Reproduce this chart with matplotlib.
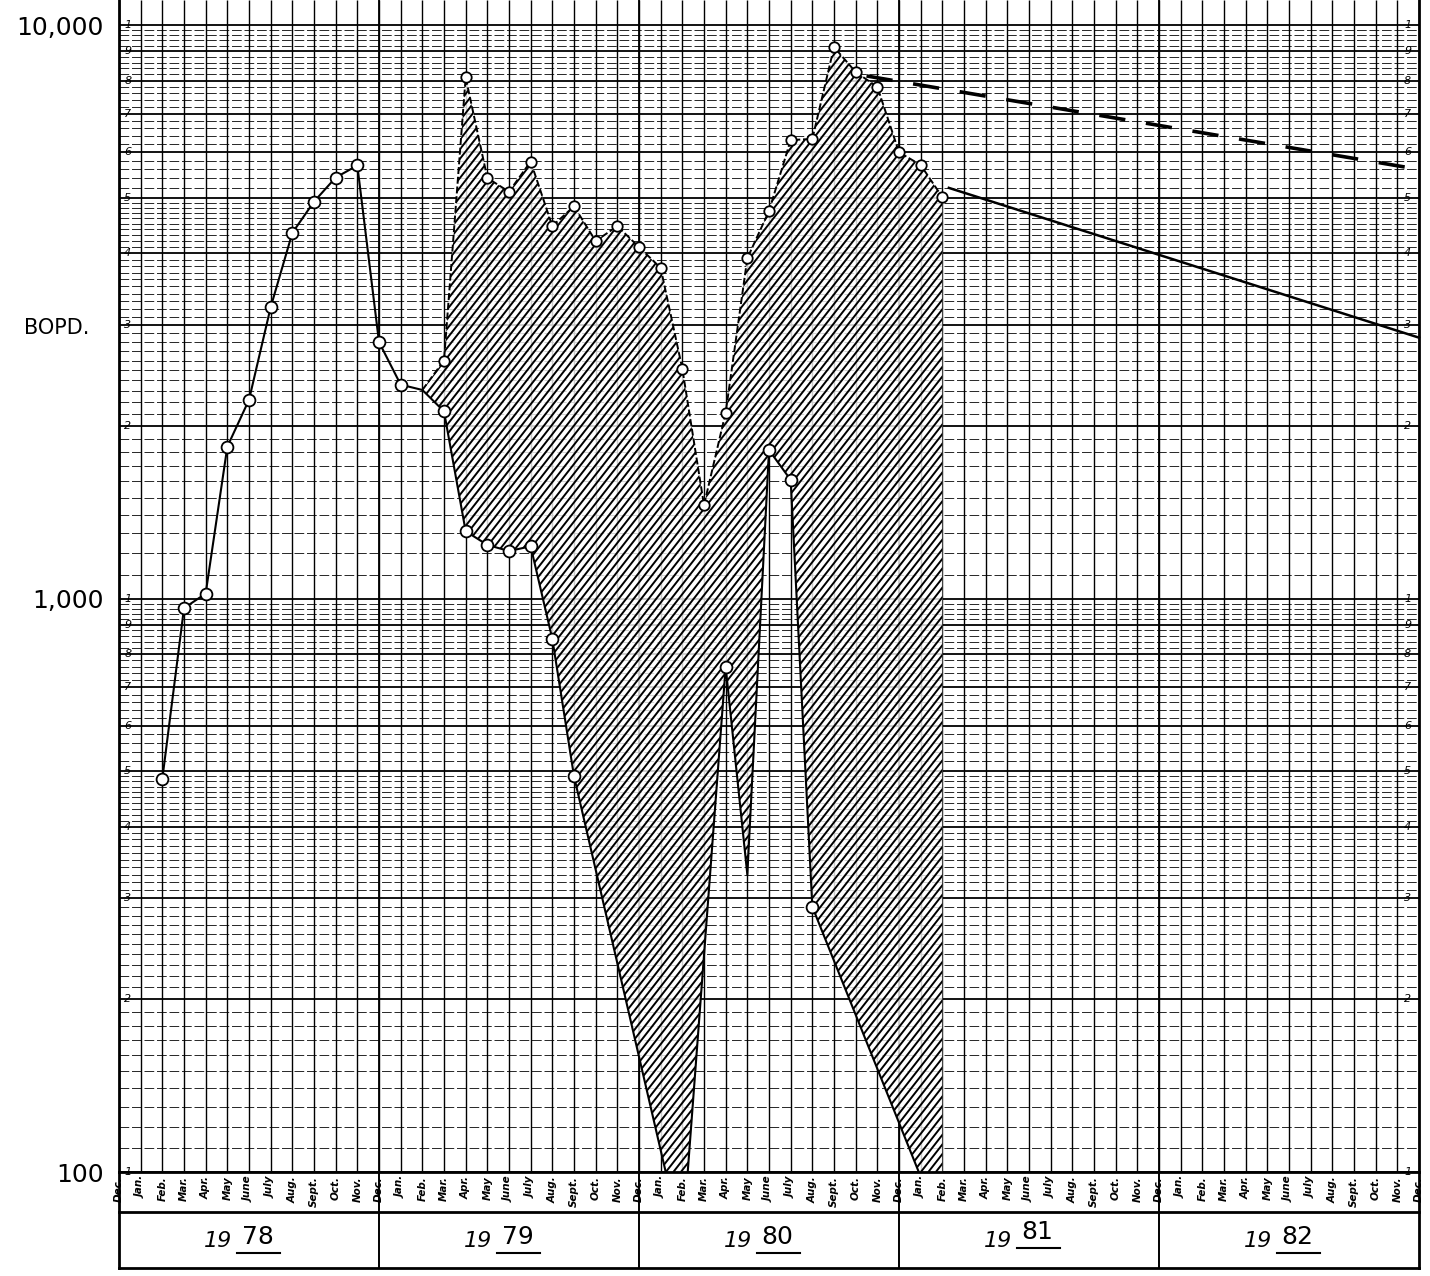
import numpy as np
import matplotlib.pyplot as plt
from matplotlib.ticker import NullLocator, NullFormatter
from matplotlib.transforms import blended_transform_factory
from matplotlib.collections import LineCollection

plt.rcParams['font.family'] = ['DejaVu Sans']
plt.rcParams['lines.scale_dashes'] = False

W, H = 1430, 1276

# month index 0 = Dec. 1977 ... 60 = Dec. 1982
months = ['Dec.', 'Jan.', 'Feb.', 'Mar.', 'Apr.', 'May', 'June', 'July',
          'Aug.', 'Sept.', 'Oct.', 'Nov.']
month_labels = [months[i % 12] for i in range(61)]
years = ['78', '79', '80', '81', '82']

# lower curve (1978 well history, then lower bound of hatched band)
lower_x = [2, 3, 4, 5, 6, 7, 8, 9, 10, 11, 12, 13, 14, 15, 16, 17, 18, 19, 20, 21,
           26, 28, 29, 30, 31, 32, 38]
lower_bopd = [485, 962, 1020, 1840, 2220, 3220, 4340, 4920, 5420, 5690, 2800, 2360,
              2310, 2120, 1310, 1240, 1210, 1233, 850, 490,
              75, 760, 330, 1815, 1610, 290, 79]
lower_marked = [0, 1, 2, 3, 4, 5, 6, 7, 8, 9, 10, 11, 13, 14, 15, 16, 17, 18, 19,
                21, 23, 24, 25]

# upper curve, Feb. 1979 .. Feb. 1981
upper_x = list(range(14, 39))
upper_bopd = [2310, 2600, 8100, 5410, 5120, 5780, 4460, 4830, 4200, 4460, 4100,
              3770, 2515, 1455, 2110, 3920, 4740, 6300, 6330, 9150, 8280, 7800,
              6000, 5700, 5010]

# projected declines
dash_x = [34.5, 60]
dash_bopd = [8150, 5600]
solid_x = [38.3, 60]
solid_bopd = [5200, 2850]

fig = plt.figure(figsize=(W / 100, H / 100), dpi=100)
ax = fig.add_axes([119 / W, 1 - 1172 / H, 1300 / W, 1172 / H])
ax.set_yscale('log')
ytop = 10 ** (4 + 25 / 573.5)
ax.set_xlim(0, 60)
ax.set_ylim(100, ytop)

# log paper grid
minor_h, major_h = [], []
for d in [100, 1000]:
    for m in np.arange(1.1, 5.0, 0.1):
        if abs(m - round(m)) > 1e-6:
            minor_h.append(m * d)
    for m in np.arange(5.2, 10.0, 0.2):
        if abs(m - round(m)) > 1e-6:
            minor_h.append(m * d)
    major_h += [k * d for k in range(1, 10)]
major_h.append(10000)
ax.hlines(minor_h, 0, 60, colors='0.15', lw=0.7, linestyles=(0, (7, 2)), zorder=1)
ax.hlines(major_h, 0, 60, colors='k', lw=1.3, zorder=1)
ax.vlines(range(61), 100, ytop, colors='k', lw=1.0, zorder=1)
ax.vlines([12, 24, 36, 48], 100, ytop, colors='k', lw=1.3, zorder=1)

# hatched band between the two curves
lo_pairs = [(x, v) for x, v in zip(lower_x, lower_bopd) if x >= 14]
poly_x = upper_x + [p[0] for p in lo_pairs[::-1]]
poly_y = upper_bopd + [p[1] for p in lo_pairs[::-1]]
band = ax.fill(poly_x, poly_y, facecolor=(1, 1, 1, 0.8), edgecolor='none', lw=0,
               zorder=2)[0]

# hand-drawn style "////" hatching, clipped to the band
aw, ah = 1300.0, 1172.0
run = ah / np.tan(np.radians(52))
segs = [[(c / aw, 0), ((c + run) / aw, 1)] for c in np.arange(-run, aw, 7.5)]
hatch = LineCollection(segs, colors='k', linewidths=1.4, transform=ax.transAxes,
                       zorder=3)
ax.add_collection(hatch)
hatch.set_clip_path(band)

ax.plot(lower_x, lower_bopd, color='k', lw=1.5, marker='o', ms=8.5, mfc='white',
        mec='k', mew=1.3, markevery=lower_marked, zorder=4)
ax.plot(upper_x, upper_bopd, color='k', lw=1.4, ls=(0, (5, 2)), marker='o', ms=7.5,
        mfc='white', mec='k', mew=1.3, markevery=list(range(1, len(upper_x))), zorder=4)

ax.plot(dash_x, dash_bopd, color='k', lw=2.6, ls=(0, (19, 15)), zorder=4)
ax.plot(solid_x, solid_bopd, color='k', lw=1.8, zorder=4, clip_on=False)

# axes cosmetics
for s in ['left', 'right', 'bottom']:
    ax.spines[s].set_linewidth(2)
ax.spines['top'].set_visible(False)
ax.set_xticks(range(61))
ax.set_xticklabels(month_labels, rotation=90, fontsize=7.5, fontweight='bold',
                   style='italic')
ax.tick_params(axis='x', length=0, pad=3)
ax.set_yticks([100, 1000, 10000])
ax.set_yticklabels(['100', '1,000', '10,000'])
ax.yaxis.set_minor_locator(NullLocator())
ax.yaxis.set_minor_formatter(NullFormatter())
ax.tick_params(axis='y', length=0, pad=11, labelsize=18)

# cycle digits printed on the log paper
bl = blended_transform_factory(ax.transAxes, ax.transData)
for d in [100, 1000, 10000]:
    for m in range(1, 10):
        if d == 10000 and m > 1:
            continue
        lab = str(m)
        ax.text(0.004, m * d, lab, transform=bl, fontsize=8, style='italic',
                ha='left', va='center', zorder=5)
        ax.text(0.994, m * d, lab, transform=bl, fontsize=8, style='italic',
                ha='right', va='center', zorder=5)

fig.text(57 / W, 1 - 328 / H, 'BOPD.', fontsize=15, ha='center', va='center')

# year boxes under the month labels
bt = blended_transform_factory(ax.transData, fig.transFigure)


def fy(px):
    return 1 - px / H


for xb in [0, 12, 24, 36, 48, 60]:
    ax.plot([xb, xb], [fy(1172), fy(1268)], transform=bt, color='k',
            lw=2 if xb in (0, 60) else 1.4, clip_on=False)
ax.plot([0, 60], [fy(1212), fy(1212)], transform=bt, color='k', lw=2, clip_on=False)
ax.plot([0, 60], [fy(1268), fy(1268)], transform=bt, color='k', lw=2, clip_on=False)
for i, yr in enumerate(years):
    c = 6 + 12 * i
    dy = 5 if yr == '81' else 0
    ax.text(c - 1.45, fy(1241), '19', transform=bt, fontsize=16, style='italic',
            ha='center', va='center')
    ax.text(c + 0.4, fy(1237 - dy), yr, transform=bt, fontsize=18,
            ha='center', va='center')
    ax.plot([c - 0.55, c + 1.45], [fy(1253 - dy), fy(1253 - dy)], transform=bt,
            color='k', lw=1.5, clip_on=False)

fig.savefig('out.png', dpi=100, facecolor='white')
